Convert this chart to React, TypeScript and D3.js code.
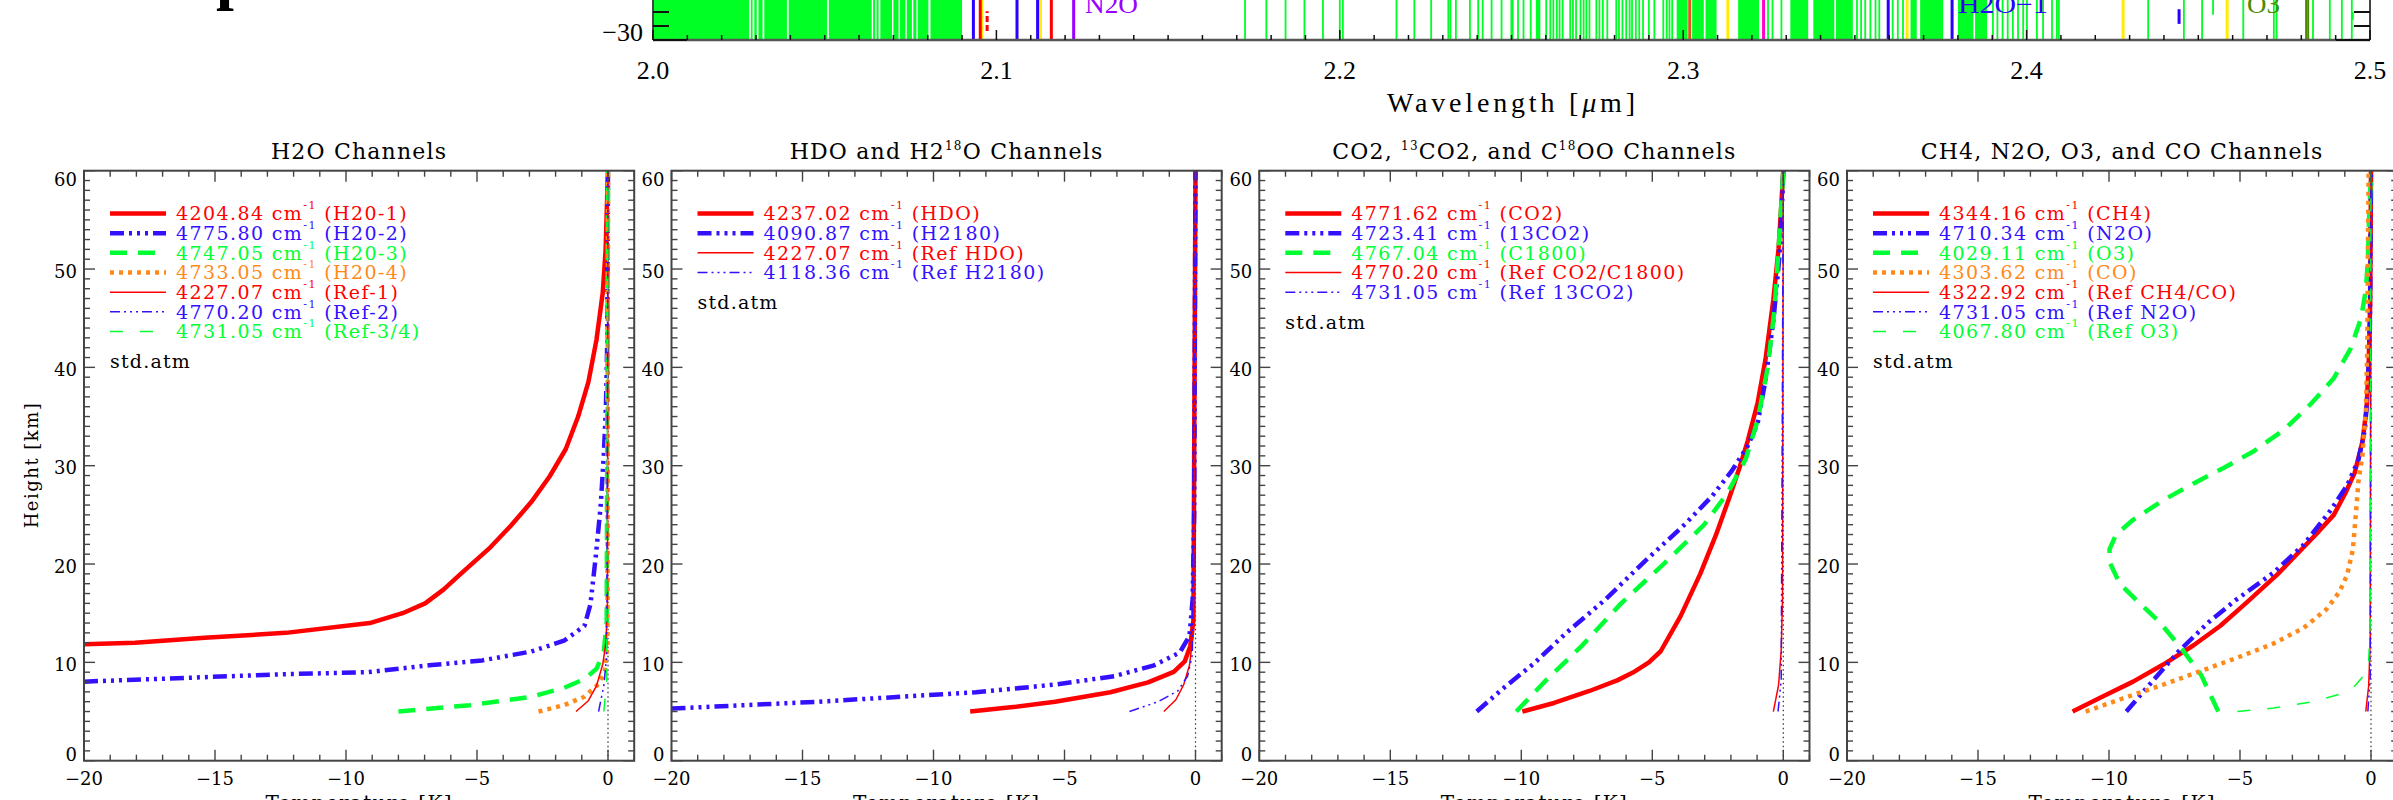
import React from 'react';
import * as d3 from 'd3';

type Pt = [number, number];

// ---------- top strip (line positions, um) ----------
const stripTicks = [2.0, 2.1, 2.2, 2.3, 2.4, 2.5];
const greenBands: [number, number][] = [
  [2.0, 2.028], [2.0285, 2.029], [2.0295, 2.0302], [2.0307, 2.0319], [2.0324, 2.039],
  [2.0395, 2.0507], [2.0512, 2.0637], [2.0641, 2.0647], [2.0651, 2.0657], [2.0662, 2.0696],
  [2.07, 2.0715], [2.0719, 2.0735], [2.0739, 2.0754], [2.0758, 2.0767], [2.0771, 2.0802],
  [2.0808, 2.09], [2.2497, 2.2506], [2.2571, 2.2584], [2.2981, 2.3013], [2.3026, 2.306],
  [2.3065, 2.3097], [2.316, 2.3221], [2.3312, 2.3364], [2.3379, 2.344], [2.3445, 2.3494],
  [2.3662, 2.368], [2.369, 2.3757], [2.38, 2.3845], [2.385, 2.3885],
];
const greenLines = [
  2.1724, 2.1786, 2.1842, 2.1897, 2.1951, 2.2, 2.2009, 2.2165, 2.2217, 2.2266, 2.2316, 2.2322,
  2.2338, 2.2379, 2.2403, 2.2416, 2.2442, 2.2471, 2.2519, 2.2535, 2.2556, 2.2601, 2.2613, 2.2622,
  2.2632, 2.264, 2.2649, 2.2671, 2.2679, 2.2688, 2.2701, 2.271, 2.2718, 2.2727, 2.2747, 2.2756,
  2.2766, 2.2779, 2.2805, 2.2813, 2.2823, 2.2834, 2.2844, 2.2851, 2.2862, 2.2872, 2.2883, 2.29,
  2.2916, 2.2942, 2.2952, 2.296, 2.2968, 2.3247, 2.326, 2.3286, 2.3506, 2.3518, 2.353, 2.3545,
  2.356, 2.3571, 2.361, 2.3625, 2.364, 2.3902, 2.3915, 2.393, 2.3945, 2.396, 2.3975, 2.399,
  2.4001, 2.403, 2.4048, 2.4074, 2.4088, 2.4094, 2.4354, 2.4458, 2.4511, 2.4631, 2.472, 2.4728,
  2.4834, 2.4883, 2.4918, 2.4947,
];
const blueLines = [2.0933, 2.106, 2.112, 2.3597, 2.3783];
const redLines = [2.0953, 2.116];
const yellowLines = [2.0958, 2.1128, 2.313, 2.3652, 2.4281, 2.4584];
const purpleLines = [2.1225];
const magentaLines = [2.3234];
const orangeLines = [2.3019];
const oliveLines = [2.4814, 2.482];
// [wavelength, low, high] on the strip's value axis
const shortRed: [number, number, number][] = [[2.0973, -28.7, -25.9]];
const shortBlue: [number, number, number][] = [[2.4444, -27.7, -25.6]];
const shortGreen: [number, number, number][] = [[2.4543, -26.4, -20], [2.495, -27.1, -26.0]];
const stripLabels = [
  { text: 'N2O', w: 2.1258, color: '#9a00ff', span: 53 },
  { text: 'H2O\u22121', w: 2.38, color: '#2a00ff', span: 90 },
  { text: 'O3', w: 2.4642, color: '#4c8a00', span: 33 },
];

// ---------- profiles: [temperature change K, height km] ----------
const h2o1: Pt[] = [[-20, 11.83], [-18.05, 12.0], [-15.4, 12.5], [-12.3, 13.0], [-9.09, 14.0], [-7.84, 15.0], [-6.98, 16.0], [-6.28, 17.4], [-5.58, 19.1], [-4.49, 21.7], [-3.71, 23.9], [-2.93, 26.3], [-2.23, 28.9], [-1.61, 31.7], [-1.14, 35.0], [-0.75, 38.5], [-0.44, 42.8], [-0.2, 47.6], [-0.09, 52.0], [-0.03, 57.6], [0, 60]];
const h2o2: Pt[] = [[-20, 8.04], [-12.3, 8.8], [-9.17, 9.0], [-6.83, 9.7], [-4.8, 10.2], [-2.93, 11.1], [-1.68, 12.2], [-0.9, 13.7], [-0.67, 15.9], [-0.47, 20.7], [-0.28, 25.9], [-0.16, 31.1], [-0.08, 35.9], [-0.03, 42.4], [0, 60]];
const h2o3: Pt[] = [[-8.0, 5.0], [-5.27, 5.65], [-2.93, 6.5], [-1.68, 7.4], [-0.9, 8.3], [-0.44, 9.35], [-0.16, 11.1], [-0.05, 14.1], [0, 60]];
const h2o4: Pt[] = [[-2.65, 5.0], [-1.68, 5.65], [-0.9, 6.5], [-0.36, 7.8], [-0.12, 9.1], [-0.02, 12], [0, 60]];
const ref1: Pt[] = [[-1.22, 5.0], [-0.75, 6.1], [-0.44, 7.6], [-0.2, 9.8], [-0.08, 12], [-0.02, 16.3], [0, 60]];
const ref2: Pt[] = [[-0.36, 5.0], [-0.16, 7.6], [-0.05, 10.7], [0, 60]];
const ref34: Pt[] = [[-0.16, 5.0], [-0.05, 8.0], [0, 60]];

const hdo: Pt[] = [[-8.6, 5.0], [-6.87, 5.48], [-5.36, 6.0], [-3.25, 6.96], [-1.81, 7.96], [-0.83, 9.04], [-0.41, 10.1], [-0.2, 11.65], [-0.08, 14.3], [0, 60]];
const h218o: Pt[] = [[-20, 5.3], [-14.4, 6.0], [-8.38, 6.96], [-5.36, 7.74], [-3.09, 8.6], [-1.58, 9.7], [-0.6, 11.0], [-0.23, 12.7], [-0.11, 16.4], [-0.05, 25.1], [0, 60]];
const refHdo: Pt[] = [[-1.21, 5.0], [-0.75, 6.2], [-0.45, 7.74], [-0.23, 9.7], [-0.08, 12.96], [0, 60]];
const refH218o: Pt[] = [[-2.52, 5.0], [-1.43, 6.0], [-0.68, 7.09], [-0.3, 8.6], [-0.12, 10.8], [0, 60]];

const co2: Pt[] = [[-9.96, 5.0], [-8.75, 5.87], [-7.4, 7.09], [-6.34, 8.17], [-5.74, 8.96], [-5.13, 10.0], [-4.68, 11.13], [-3.92, 14.7], [-3.17, 19.0], [-2.57, 22.96], [-2.04, 26.9], [-1.66, 29.9], [-1.36, 32.5], [-0.98, 36.4], [-0.68, 40.8], [-0.38, 46.9], [-0.18, 52.1], [-0.08, 56.4], [0, 60]];
const co2_13: Pt[] = [[-11.7, 5.0], [-10.72, 7.3], [-9.51, 9.9], [-8.3, 12.96], [-6.79, 16.4], [-5.28, 20.3], [-3.77, 24.0], [-2.72, 26.9], [-1.96, 29.5], [-1.36, 32.0], [-0.98, 34.3], [-0.68, 38.7], [-0.38, 44.7], [-0.15, 51.2], [-0.03, 57.7], [0, 60]];
const c18oo: Pt[] = [[-10.19, 5.0], [-9.06, 8.17], [-7.7, 11.65], [-6.19, 16.0], [-4.53, 20.1], [-3.02, 24.0], [-2.11, 27.3], [-1.43, 30.7], [-0.98, 34.6], [-0.6, 39.9], [-0.33, 46.0], [-0.15, 53.3], [-0.03, 58.6], [0, 60]];
const refCo2: Pt[] = [[-0.38, 5.0], [-0.18, 7.7], [-0.08, 11.2], [-0.03, 16.4], [0, 60]];
const ref13co2: Pt[] = [[-0.2, 5.0], [-0.08, 8.17], [0, 60]];

const ch4: Pt[] = [[-11.39, 5.0], [-10.24, 6.52], [-9.08, 8.04], [-7.93, 9.78], [-6.77, 11.74], [-5.76, 13.7], [-4.74, 16.1], [-3.59, 18.9], [-2.72, 21.3], [-2.0, 23.3], [-1.42, 25.0], [-0.98, 27.2], [-0.62, 29.3], [-0.33, 32.4], [-0.17, 35.8], [-0.09, 40.2], [-0.03, 46.7], [0, 60]];
const n2o: Pt[] = [[-9.34, 5.0], [-8.5, 7.6], [-7.35, 11.1], [-6.19, 14.1], [-5.18, 16.3], [-3.73, 19.1], [-2.57, 21.96], [-1.56, 25.4], [-0.91, 28.0], [-0.48, 30.6], [-0.23, 33.7], [-0.12, 38.0], [-0.04, 44.5], [0, 60]];
const o3: Pt[] = [[-5.83, 5.0], [-6.48, 8.7], [-7.2, 11.3], [-8.07, 14.1], [-8.94, 16.3], [-9.59, 18.0], [-9.98, 20.2], [-9.98, 21.5], [-9.73, 23.0], [-9.08, 24.5], [-7.93, 26.5], [-6.77, 28.2], [-5.61, 29.8], [-4.46, 31.5], [-3.3, 33.7], [-2.29, 36.3], [-1.42, 38.9], [-0.77, 41.96], [-0.38, 45.0], [-0.19, 48.0], [-0.12, 51.0], [-0.07, 55.4], [0, 60]];
const co: Pt[] = [[-10.89, 5.0], [-9.51, 6.3], [-8.07, 7.6], [-6.62, 9.0], [-5.18, 10.4], [-3.73, 11.9], [-2.57, 13.5], [-1.7, 15.4], [-1.2, 17.2], [-0.91, 18.9], [-0.69, 21.5], [-0.58, 25.0], [-0.48, 28.4], [-0.33, 31.0], [-0.19, 35.8], [-0.14, 42.3], [-0.12, 51.0], [-0.09, 60]];
const refCh4: Pt[] = [[-0.2, 5.0], [-0.09, 7.6], [-0.03, 12.0], [0, 60]];
const refN2o: Pt[] = [[-0.12, 5.0], [-0.03, 8.5], [0, 60]];
const refO3: Pt[] = [[-5.1, 5.0], [-3.73, 5.35], [-2.28, 5.96], [-1.27, 6.7], [-0.62, 7.6], [-0.26, 8.7], [-0.09, 10.0], [-0.03, 14.1], [0, 60]];

const xTicks = [-20, -15, -10, -5, 0];
const yTicks = [0, 10, 20, 30, 40, 50, 60];

type Entry = { freq: string; name: string; data: Pt[]; style: string; color: string };
type Panel = { title: { t: string; sup?: boolean }[]; entries: Entry[] };

const panels: Panel[] = [
  {
    title: [{ t: 'H2O Channels' }],
    entries: [
      { freq: '4204.84', name: 'H20-1', data: h2o1, style: 'thickSolid', color: 'red' },
      { freq: '4775.80', name: 'H20-2', data: h2o2, style: 'thickDashDot', color: 'blue' },
      { freq: '4747.05', name: 'H20-3', data: h2o3, style: 'thickDash', color: 'green' },
      { freq: '4733.05', name: 'H20-4', data: h2o4, style: 'thickDot', color: 'orange' },
      { freq: '4227.07', name: 'Ref-1', data: ref1, style: 'thinSolid', color: 'red' },
      { freq: '4770.20', name: 'Ref-2', data: ref2, style: 'thinDashDot', color: 'blue' },
      { freq: '4731.05', name: 'Ref-3/4', data: ref34, style: 'thinDash', color: 'green' },
    ],
  },
  {
    title: [{ t: 'HDO and H2' }, { t: '18', sup: true }, { t: 'O Channels' }],
    entries: [
      { freq: '4237.02', name: 'HDO', data: hdo, style: 'thickSolid', color: 'red' },
      { freq: '4090.87', name: 'H2180', data: h218o, style: 'thickDashDot', color: 'blue' },
      { freq: '4227.07', name: 'Ref HDO', data: refHdo, style: 'thinSolid', color: 'red' },
      { freq: '4118.36', name: 'Ref H2180', data: refH218o, style: 'thinDashDot', color: 'blue' },
    ],
  },
  {
    title: [{ t: 'CO2, ' }, { t: '13', sup: true }, { t: 'CO2, and C' }, { t: '18', sup: true }, { t: 'OO Channels' }],
    entries: [
      { freq: '4771.62', name: 'CO2', data: co2, style: 'thickSolid', color: 'red' },
      { freq: '4723.41', name: '13CO2', data: co2_13, style: 'thickDashDot', color: 'blue' },
      { freq: '4767.04', name: 'C1800', data: c18oo, style: 'thickDash', color: 'green' },
      { freq: '4770.20', name: 'Ref CO2/C1800', data: refCo2, style: 'thinSolid', color: 'red' },
      { freq: '4731.05', name: 'Ref 13CO2', data: ref13co2, style: 'thinDashDot', color: 'blue' },
    ],
  },
  {
    title: [{ t: 'CH4, N2O, O3, and CO Channels' }],
    entries: [
      { freq: '4344.16', name: 'CH4', data: ch4, style: 'thickSolid', color: 'red' },
      { freq: '4710.34', name: 'N2O', data: n2o, style: 'thickDashDot', color: 'blue' },
      { freq: '4029.11', name: 'O3', data: o3, style: 'thickDash', color: 'green' },
      { freq: '4303.62', name: 'CO', data: co, style: 'thickDot', color: 'orange' },
      { freq: '4322.92', name: 'Ref CH4/CO', data: refCh4, style: 'thinSolid', color: 'red' },
      { freq: '4731.05', name: 'Ref N2O', data: refN2o, style: 'thinDashDot', color: 'blue' },
      { freq: '4067.80', name: 'Ref O3', data: refO3, style: 'thinDash', color: 'green' },
    ],
  },
];

const colors: Record<string, string> = {
  red: '#ff0000', blue: '#3311ff', green: '#00ff33', orange: '#ff8a1a',
};
const styles: Record<string, { w: number; dash?: string }> = {
  thickSolid: { w: 4.5 },
  thickDashDot: { w: 4.5, dash: '14 5 3 5 3 5 3 5' },
  thickDash: { w: 4.5, dash: '17 11' },
  thickDot: { w: 4.5, dash: '4 5' },
  thinSolid: { w: 1.5 },
  thinDashDot: { w: 1.5, dash: '10 4 2 4 2 4 2 4' },
  thinDash: { w: 1.5, dash: '13 17' },
};

const W = 2393;
const H = 800;
const SERIF = '"DejaVu Serif", serif';
const TIMES = '"Liberation Serif", serif';
const AXIS = '#444';

const panelLeft = [84, 671.5, 1259.3, 1847];
const panelW = 550.2;
const plotTop = 170.7;
const plotBottom = 760.7;

function Strip() {
  const x = d3.scaleLinear([2.0, 2.5], [653, 2370]);
  const y = d3.scaleLinear([-30, -20], [40, -30]);
  const minor = d3.range(200, 251).map((d) => d / 100);
  const vline = (w: number, c: string, sw: number, k: string, lo = -30, hi = -20, dash?: string) => (
    <line key={k} x1={x(w)} x2={x(w)} y1={y(lo)} y2={y(hi)} stroke={c} strokeWidth={sw} strokeDasharray={dash} />
  );
  return (
    <g>
      {greenBands.map(([a, b], i) => (
        <rect key={'gb' + i} x={x(a)} y={y(-20)} width={Math.max(x(b) - x(a), 1.5)} height={y(-30) - y(-20)} fill="#00ff24" />
      ))}
      {greenLines.map((w, i) => vline(w, '#00ff24', 1.8, 'gl' + i))}
      {shortGreen.map(([w, lo, hi], i) => vline(w, '#00ff24', 1.8, 'sg' + i, lo, hi))}
      {orangeLines.map((w, i) => vline(w, '#d9561a', 3, 'ol' + i))}
      {oliveLines.map((w, i) => vline(w, '#4c8a00', 2, 'ov' + i))}
      {yellowLines.map((w, i) => vline(w, '#ffee00', 3, 'yl' + i))}
      {magentaLines.map((w, i) => vline(w, '#ff00cc', 3, 'ml' + i))}
      {purpleLines.map((w, i) => vline(w, '#9a00ff', 3, 'pl' + i))}
      {redLines.map((w, i) => vline(w, '#ff0000', 3, 'rl' + i))}
      {blueLines.map((w, i) => vline(w, '#2a00ff', 3, 'bl' + i))}
      {shortRed.map(([w, lo, hi], i) => vline(w, '#ff0000', 3, 'sr' + i, lo, hi, '6 3'))}
      {shortBlue.map(([w, lo, hi], i) => vline(w, '#2a00ff', 3, 'sb' + i, lo, hi))}
      {stripLabels.map((l) => (
        <text key={l.text} x={x(l.w)} y={y(-26.1)} fill={l.color} fontFamily={TIMES} fontSize={26}
          textLength={l.span} lengthAdjust="spacingAndGlyphs">
          {l.text}
        </text>
      ))}
      {/* axes */}
      <line x1={x(2.0)} x2={x(2.5)} y1={y(-30)} y2={y(-30)} stroke="#555" strokeWidth={2.5} />
      <line x1={x(2.0)} x2={x(2.0)} y1={0} y2={y(-30)} stroke={AXIS} strokeWidth={2} />
      <line x1={x(2.5)} x2={x(2.5)} y1={0} y2={y(-30)} stroke={AXIS} strokeWidth={2} />
      {minor.map((w) => {
        const major = Math.abs(w * 10 - Math.round(w * 10)) < 1e-6;
        return <line key={'st' + w} x1={x(w)} x2={x(w)} y1={y(-30)} y2={y(-30) - (major ? 10 : 5)} stroke="#111" strokeWidth={1.5} />;
      })}
      {[-30, -28, -26].map((v) => {
        const len = v === -30 ? 34 : 16;
        return (
          <g key={'sy' + v}>
            <line x1={x(2.0)} x2={x(2.0) + len} y1={y(v)} y2={y(v)} stroke="#111" strokeWidth={2} />
            <line x1={x(2.5)} x2={x(2.5) - len} y1={y(v)} y2={y(v)} stroke="#111" strokeWidth={2} />
          </g>
        );
      })}
      <text x={643} y={41} textAnchor="end" fontFamily={TIMES} fontSize={26}>{'\u221230'}</text>
      {stripTicks.map((t) => (
        <text key={'sl' + t} x={x(t)} y={79} textAnchor="middle" fontFamily={TIMES} fontSize={26}>
          {d3.format('.1f')(t)}
        </text>
      ))}
      <text x={1511} y={112} textAnchor="middle" fontFamily={TIMES} fontSize={28} textLength={248} lengthAdjust="spacing">
        Wavelength [<tspan fontStyle="italic">μ</tspan>m]
      </text>
    </g>
  );
}

function ProfilePanel({ p, i }: { p: Panel; i: number }) {
  const L = panelLeft[i];
  const x = d3.scaleLinear([-20, 1], [L, L + panelW]);
  const y = d3.scaleLinear([0, 60], [plotBottom, plotTop]);
  const line = d3.line<Pt>().x((d) => x(d[0])).y((d) => y(d[1]));
  const fmt = d3.format('d');
  const xMinor = d3.range(-20, 2, 1);
  const yMinor = d3.range(0, 61, 1);
  const rowY = (k: number) => y(55.65 - 2 * k);
  const cx = L + panelW / 2;
  return (
    <g>
      {/* zero line */}
      <line x1={x(0)} x2={x(0)} y1={y(0)} y2={y(60)} stroke="#333" strokeWidth={1.2} strokeDasharray="1.5 3" />
      {p.entries.map((e, k) => (
        <path key={'c' + k} d={line(e.data) || ''} fill="none" stroke={colors[e.color]} strokeWidth={styles[e.style].w}
          strokeDasharray={styles[e.style].dash} strokeLinejoin="round" />
      ))}
      {/* frame */}
      <rect x={L} y={plotTop} width={panelW} height={plotBottom - plotTop} fill="none" stroke={AXIS} strokeWidth={2} />
      {xMinor.map((v) => {
        const len = v % 5 === 0 ? 11 : 6;
        return (
          <g key={'xt' + v} stroke={AXIS} strokeWidth={1.4}>
            <line x1={x(v)} x2={x(v)} y1={plotBottom} y2={plotBottom - len} />
            <line x1={x(v)} x2={x(v)} y1={plotTop} y2={plotTop + len} />
          </g>
        );
      })}
      {yMinor.map((v) => {
        const len = v % 10 === 0 ? 11 : 6;
        return (
          <g key={'yt' + v} stroke={AXIS} strokeWidth={1.4}>
            <line x1={L} x2={L + len} y1={y(v)} y2={y(v)} />
            <line x1={L + panelW} x2={L + panelW - len} y1={y(v)} y2={y(v)} />
          </g>
        );
      })}
      {xTicks.map((v) => (
        <text key={'xl' + v} x={x(v)} y={785} textAnchor="middle" fontFamily={SERIF} fontSize={18}>{fmt(v)}</text>
      ))}
      {yTicks.map((v) => (
        <text key={'yl' + v} x={L - 7} y={Math.min(Math.max(y(v) + 2, plotTop + 9), plotBottom - 6)} textAnchor="end"
          dominantBaseline="central" fontFamily={SERIF} fontSize={18}>{v}</text>
      ))}
      <text x={cx} y={159} textAnchor="middle" fontFamily={SERIF} fontSize={22} letterSpacing={1.2}>
        {p.title.map((s, k) =>
          s.sup ? (
            <tspan key={k} fontSize={12} dy={-9}>{s.t}</tspan>
          ) : (
            <tspan key={k} dy={k > 0 && p.title[k - 1].sup ? 9 : 0}>{s.t}</tspan>
          ),
        )}
      </text>
      {p.entries.map((e, k) => (
        <g key={'lg' + k}>
          <line x1={L + 26} x2={L + 82} y1={rowY(k)} y2={rowY(k)} stroke={colors[e.color]} strokeWidth={styles[e.style].w}
            strokeDasharray={styles[e.style].dash} />
          <text x={L + 92} y={rowY(k)} dominantBaseline="central" fill={colors[e.color]} fontFamily={SERIF} fontSize={19} letterSpacing={1.4}>
            {e.freq + ' cm'}
            <tspan fontSize={11} dy={-8}>-1</tspan>
            <tspan dy={8}>{' (' + e.name + ')'}</tspan>
          </text>
        </g>
      ))}
      <text x={L + 26} y={rowY(p.entries.length - 1) + 3 * 9.833} dominantBaseline="central" fontFamily={SERIF} fontSize={19} letterSpacing={1.2}>
        std.atm
      </text>
      <text x={cx} y={810} textAnchor="middle" fontFamily={SERIF} fontSize={20} letterSpacing={1.3}>Temperature [K]</text>
    </g>
  );
}

export default function App() {
  return (
    <svg width={W} height={H} viewBox={`0 0 ${W} ${H}`} style={{ position: 'absolute', left: 0, top: 0, background: '#fff' }}>
      <rect x={0} y={0} width={W} height={H} fill="#fff" />
      <text x={216} y={-3} fontFamily={TIMES} fontWeight="bold" fontSize={64}>p</text>
      <Strip />
      {panels.map((p, i) => (
        <ProfilePanel key={i} p={p} i={i} />
      ))}
      <text transform="translate(31,465) rotate(-90)" textAnchor="middle" dominantBaseline="central" fontFamily={SERIF} fontSize={18} letterSpacing={1.5}>
        Height [km]
      </text>
    </svg>
  );
}
